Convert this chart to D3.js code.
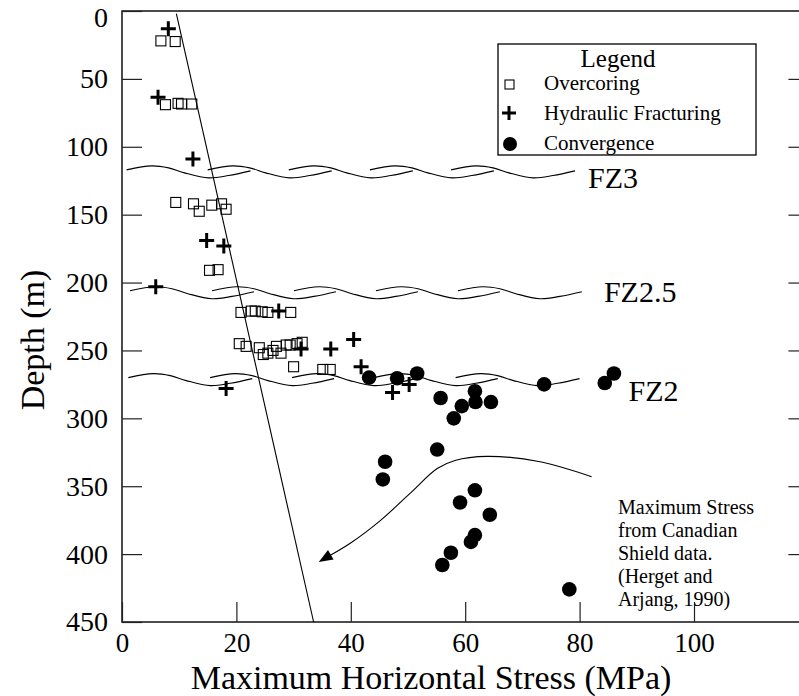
<!DOCTYPE html>
<html>
<head>
<meta charset="utf-8">
<script src="https://cdn.jsdelivr.net/npm/d3@7"></script>
<style>
  body { margin: 0; background: #fff; }
  svg text { font-family: "Liberation Serif", "Times New Roman", serif; fill: #000; }
</style>
</head>
<body>
<svg id="chart" width="799" height="696"></svg>
<script>
// ---- data: [max horizontal stress (MPa), depth (m)] ----
const xTickValues = [0, 20, 40, 60, 80, 100];
const yTickValues = [0, 50, 100, 150, 200, 250, 300, 350, 400, 450];

const overcoring = [
  [6.8, 22], [9.3, 22.5],
  [7.6, 69], [9.8, 68], [10.4, 68.5], [12.2, 68.5],
  [9.4, 141], [12.5, 142], [13.5, 147.5], [15.7, 143], [17.4, 142], [18.2, 146],
  [15.3, 191], [16.8, 190.5],
  [20.8, 222], [22.6, 221], [23.3, 221], [24.5, 221.5], [25.5, 222], [29.5, 222],
  [20.5, 245], [21.7, 247], [24.0, 248], [24.7, 253], [25.5, 252], [26.4, 250],
  [27.0, 247], [27.8, 252], [28.7, 246], [29.4, 246], [30.0, 262], [30.6, 245],
  [31.5, 244], [35.1, 264], [36.4, 264]
];

const hydraulic = [
  [8.1, 13], [6.3, 63.5], [12.4, 109], [14.8, 169], [17.8, 173], [5.9, 203],
  [27.4, 221], [31.3, 249], [36.5, 249], [40.5, 242], [41.8, 262],
  [47.3, 281], [50.2, 275], [18.2, 278]
];

const convergence = [
  [43.2, 270], [48.1, 270.5], [51.6, 267], [55.7, 285], [58.0, 300], [59.4, 291],
  [61.7, 280], [61.8, 288], [64.5, 288], [73.8, 275], [84.4, 274], [86.0, 267],
  [55.1, 323], [46.0, 332], [45.6, 345], [61.7, 353], [59.1, 362], [64.3, 371],
  [61.7, 386], [61.0, 391], [57.5, 399], [56.0, 408], [78.2, 426]
];

// Canadian Shield maximum stress trend (Herget and Arjang, 1990)
const shieldTrend = [[9.5, 2], [33.5, 450]];

// pointer from the annotation text to the trend line
const shieldPointer = [
  [82.1, 343], [73.1, 332], [63.8, 328], [58.2, 331], [55.1, 337],
  [50.3, 355.5], [45.1, 375.5], [39.9, 392], [35.3, 403.5]
];

// fault zones: name, depth of the zone trace, stress extent of the trace
const faultZones = [
  { name: "FZ3",   depth: 117,   from: 0.8, to: 79.2 },
  { name: "FZ2.5", depth: 206,   from: 1.4, to: 80.4 },
  { name: "FZ2",   depth: 270,   from: 1.1, to: 80.0 }
];

const legendItems = ["Overcoring", "Hydraulic Fracturing", "Convergence"];
const annotationLines = ["Maximum Stress", "from Canadian", "Shield data.", "(Herget and", "Arjang, 1990)"];

// ---- drawing ----
const svg = d3.select("#chart");
const x = d3.scaleLinear().domain([0, 120]).range([122, 122 + 120 * 5.72]);
const y = d3.scaleLinear().domain([0, 450]).range([11, 622]);
const [x0, x1] = x.range();
const [y0, y1] = y.range();

// frame
svg.append("rect")
  .attr("x", x0).attr("y", y0).attr("width", x1 - x0).attr("height", y1 - y0)
  .attr("fill", "none").attr("stroke", "#000").attr("stroke-width", 1.4);

// axes with inward ticks
const tickStyle = g => {
  g.select(".domain").remove();
  g.selectAll(".tick line").attr("stroke", "#222").attr("stroke-width", 1.2);
  g.selectAll(".tick text").attr("font-family", "Liberation Serif, serif").attr("fill", "#000");
};

svg.append("g")
  .attr("transform", `translate(0,${y1})`)
  .call(d3.axisBottom(x).tickValues(xTickValues).tickSizeInner(-20).tickSizeOuter(0).tickPadding(11))
  .call(tickStyle)
  .selectAll(".tick text").attr("font-size", 27);

svg.append("g")
  .attr("transform", `translate(${x0},0)`)
  .call(d3.axisLeft(y).tickValues(yTickValues).tickSizeInner(-20).tickSizeOuter(0).tickPadding(14))
  .call(tickStyle)
  .selectAll(".tick text").attr("font-size", 28)
  .attr("dy", d => d === 0 ? "0.55em" : "0.32em");

svg.append("g")
  .attr("transform", `translate(${x1},0)`)
  .call(d3.axisRight(y).tickValues(yTickValues.slice(1, -1)).tickSizeInner(-20).tickSizeOuter(0).tickFormat(""))
  .call(tickStyle);

// axis titles
svg.append("text")
  .attr("x", 431).attr("y", 689).attr("text-anchor", "middle").attr("font-size", 34)
  .text("Maximum Horizontal Stress (MPa)");
svg.append("text")
  .attr("transform", "translate(44,340) rotate(-90)").attr("text-anchor", "middle").attr("font-size", 34)
  .text("Depth (m)");

// fault zone traces: chain of overlapping wavy strokes
const segShape = [[0, 0], [25, -4], [42, -2], [58, 3], [82, 8], [102, 5.7], [124, 1]];
const segLen = 124, segCount = 5;
const waveLine = d3.line().curve(d3.curveCatmullRom.alpha(0.5));
const zoneLabel = { "FZ3": [13, 18], "FZ2.5": [22, 11], "FZ2": [49, 23] };
faultZones.forEach(z => {
  const sx0 = x(z.from), sx1 = x(z.to), sy = y(z.depth);
  const step = (sx1 - sx0 - segLen) / (segCount - 1);
  for (let k = 0; k < segCount; k++) {
    const bx = sx0 + k * step;
    svg.append("path")
      .attr("d", waveLine(segShape.map(([dx, dy]) => [bx + dx, sy + dy])))
      .attr("fill", "none").attr("stroke", "#000").attr("stroke-width", 1.1);
  }
  const [lx, ly] = zoneLabel[z.name];
  svg.append("text").attr("x", sx1 + lx).attr("y", sy + ly).attr("font-size", 30).text(z.name);
});

// trend line
svg.append("line")
  .attr("x1", x(shieldTrend[0][0])).attr("y1", y(shieldTrend[0][1]))
  .attr("x2", x(shieldTrend[1][0])).attr("y2", y(shieldTrend[1][1]))
  .attr("stroke", "#000").attr("stroke-width", 1.1);

// pointer curve with arrowhead
const ptr = shieldPointer.map(([s, d]) => [x(s), y(d)]);
svg.append("path")
  .attr("d", d3.line().curve(d3.curveCatmullRom.alpha(0.5))(ptr))
  .attr("fill", "none").attr("stroke", "#000").attr("stroke-width", 1.1);
{
  const [ax, ay] = ptr[ptr.length - 1], [bx, by] = ptr[ptr.length - 2];
  const ang = Math.atan2(ay - by, ax - bx);
  const len = 14, half = 5.5;
  const tip = [ax + Math.cos(ang) * 6, ay + Math.sin(ang) * 6];
  const base = [tip[0] - Math.cos(ang) * len, tip[1] - Math.sin(ang) * len];
  const nx = -Math.sin(ang) * half, ny = Math.cos(ang) * half;
  svg.append("path")
    .attr("d", `M${tip}L${base[0] + nx},${base[1] + ny}L${base[0] - nx},${base[1] - ny}Z`)
    .attr("fill", "#000");
}

// annotation text
svg.append("text").attr("x", 618).attr("y", 514).attr("font-size", 20)
  .selectAll("tspan").data(annotationLines).join("tspan")
  .attr("x", 618).attr("dy", (d, i) => i ? 23 : 0).text(d => d);

// markers
const sq = 10;
svg.append("g").selectAll("rect").data(overcoring).join("rect")
  .attr("x", d => x(d[0]) - sq / 2).attr("y", d => y(d[1]) - sq / 2)
  .attr("width", sq).attr("height", sq)
  .attr("fill", "none").attr("stroke", "#000").attr("stroke-width", 1.1);

const plusPath = (cx, cy, h) => `M${cx - h},${cy}H${cx + h}M${cx},${cy - h}V${cy + h}`;
svg.append("g").selectAll("path").data(hydraulic).join("path")
  .attr("d", d => plusPath(x(d[0]), y(d[1]), 7.5))
  .attr("stroke", "#000").attr("stroke-width", 3).attr("fill", "none");

svg.append("g").selectAll("circle").data(convergence).join("circle")
  .attr("cx", d => x(d[0])).attr("cy", d => y(d[1])).attr("r", 7.3).attr("fill", "#000");

// legend
const lg = svg.append("g");
lg.append("rect").attr("x", 498).attr("y", 44).attr("width", 258).attr("height", 111)
  .attr("fill", "#fff").attr("stroke", "#000").attr("stroke-width", 1.3);
lg.append("text").attr("x", 618).attr("y", 67).attr("text-anchor", "middle").attr("font-size", 25).text("Legend");
const rowY = [90, 120, 150];
lg.selectAll("text.item").data(legendItems).join("text").attr("class", "item")
  .attr("x", 544).attr("y", (d, i) => rowY[i]).attr("font-size", 21).text(d => d);
lg.append("rect").attr("x", 505).attr("y", rowY[0] - 10).attr("width", 9).attr("height", 9)
  .attr("fill", "none").attr("stroke", "#000").attr("stroke-width", 1.1);
lg.append("path").attr("d", plusPath(509, rowY[1] - 7, 7)).attr("stroke", "#000").attr("stroke-width", 3);
lg.append("circle").attr("cx", 510).attr("cy", rowY[2] - 6).attr("r", 7).attr("fill", "#000");
</script>
</body>
</html>
